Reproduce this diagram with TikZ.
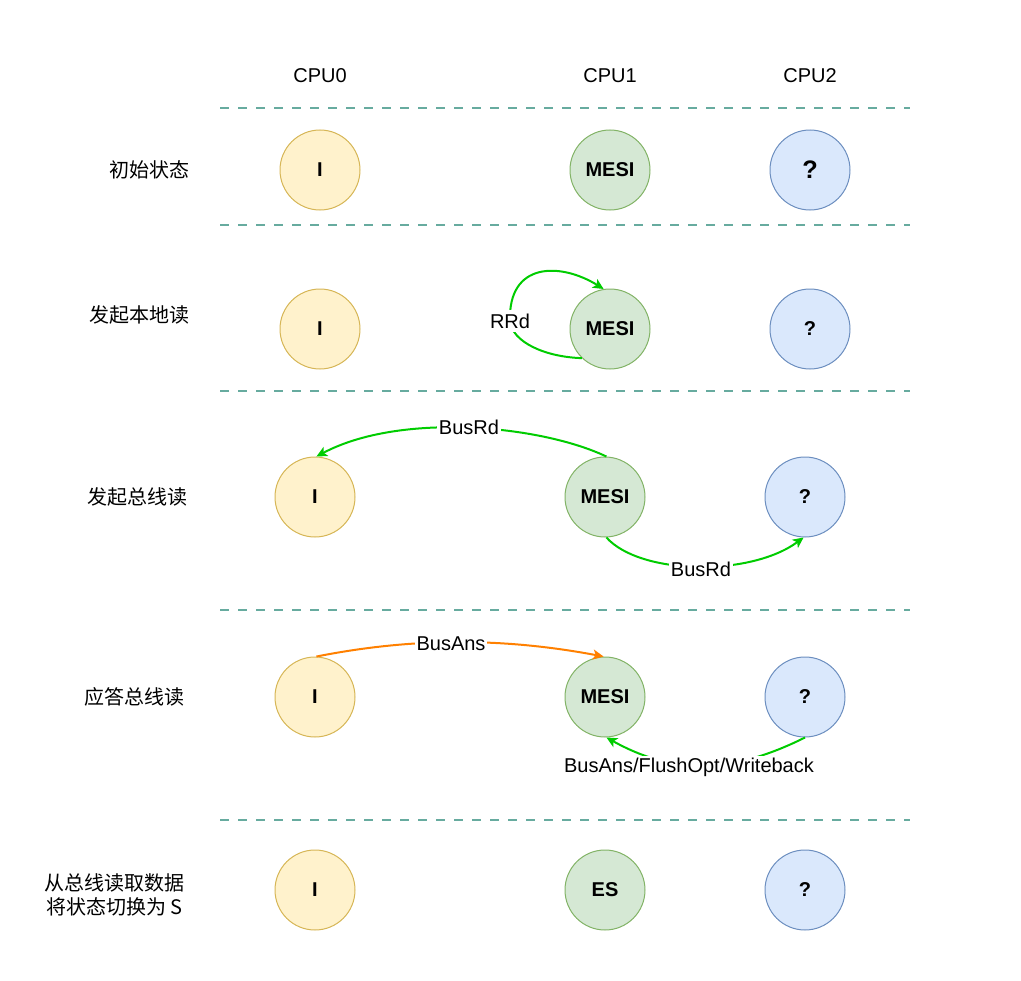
\documentclass[tikz,border=0pt]{standalone}
\usepackage{fontspec}
\setmainfont{Liberation Sans}
\newfontfamily\cjk{Noto Sans CJK SC}
\usetikzlibrary{arrows.meta}

\definecolor{lanefill}{HTML}{67AB9F}
\definecolor{invfill}{HTML}{FFF2CC}
\definecolor{invline}{HTML}{D6B656}
\definecolor{valfill}{HTML}{D5E8D4}
\definecolor{valline}{HTML}{82B366}
\definecolor{unkfill}{HTML}{DAE8FC}
\definecolor{unkline}{HTML}{6C8EBF}
\definecolor{busgreen}{HTML}{00CC00}
\definecolor{ansorange}{HTML}{FF8000}

\begin{document}
\begin{tikzpicture}[
    x={(0.75pt,0)}, y={(0,-0.75pt)},
    every node/.style={font=\fontsize{15}{18}\selectfont},
    state/.style={circle, draw, line width=0.75pt, minimum size=60pt, inner sep=0pt, font=\fontsize{15}{18}\selectfont\bfseries},
    inv/.style={state, fill=invfill, draw=invline},
    val/.style={state, fill=valfill, draw=valline},
    unk/.style={state, fill=unkfill, draw=unkline},
    lane/.style={draw=lanefill, line width=1.9pt, dash pattern=on 6.75pt off 6.75pt},
    rowlbl/.style={anchor=east, align=center, inner xsep=0pt, font=\cjk\fontsize{15}{18}\selectfont},
    edgelbl/.style={fill=white, inner sep=1.5pt},
    bus/.style={draw=busgreen, line width=1.5pt, -{Stealth[length=8pt, width=7.5pt, inset=2pt]}},
    ans/.style={bus, draw=ansorange}
  ]
  \useasboundingbox (0,0) rectangle (1021,981);

  % --- header ---
  \node (cpu0) at (320,76) {CPU0};
  \node (cpu1) at (610,76) {CPU1};
  \node (cpu2) at (810,76) {CPU2};

  % lane separators
  \foreach \y in {108,225,391,610,820}
    \draw[lane] (220,\y) -- (910,\y);

  % --- row 1: initial state ---
  \node[rowlbl] (r1) at (190,170) {初始状态};
  \node[inv] (i1) at (320,170) {I};
  \node[val] (m1) at (610,170) {MESI};
  \node[unk, font=\fontsize{19}{22}\selectfont\bfseries] (q1) at (810,170) {?};

  % --- row 2: local read ---
  \node[rowlbl] (r2) at (190,315) {发起本地读};
  \node[inv] (i2) at (320,329) {I};
  \node[val] (m2) at (610,329) {MESI};
  \node[unk] (q2) at (810,329) {?};

  % RRd: loop on CPU1
  \coordinate (rrdpt) at (510,321);
  \draw[bus] (m2.226) .. controls (545,357) and (512,342) .. (rrdpt)
    .. controls (508,262) and (560,262) .. (m2.99);
  \node[edgelbl, inner sep=2.5pt] (rrd) at (rrdpt) {RRd};

  % --- row 3: bus read ---
  \node[rowlbl] (r3) at (188,497) {发起总线读};
  \node[inv] (i3) at (315,497) {I};
  \node[val] (m3) at (605,497) {MESI};
  \node[unk] (q3) at (805,497) {?};

  % BusRd to CPU0 and CPU2
  \draw[bus] (m3.88) .. controls (540,425) and (400,412) .. (i3.88);
  \node[edgelbl] (busrd0) at (469,427) {BusRd};
  \draw[bus] (m3.-88) .. controls (640,575) and (750,577) .. (q3.-92);
  \node[edgelbl] (busrd2) at (701,569) {BusRd};

  % --- row 4: answer bus read ---
  \node[rowlbl] (r4) at (185,697) {应答总线读};
  \node[inv] (i4) at (315,697) {I};
  \node[val] (m4) at (605,697) {MESI};
  \node[unk] (q4) at (805,697) {?};

  % BusAns from CPU0, reply from CPU2
  \draw[ans] (i4.88) .. controls (410,638) and (500,637) .. (m4.92);
  \node[edgelbl] (busans) at (451,644) {BusAns};
  \draw[bus] (q4.-90) .. controls (730,775) and (672,774) .. (m4.-88);
  \node[edgelbl] (reply) at (689,767) {BusAns/FlushOpt/Writeback};

  % --- row 5: take data, switch to S ---
  \node[rowlbl] (r5) at (185,895) {从总线读取数据\\将状态切换为 S};
  \node[inv] (i5) at (315,890) {I};
  \node[val] (m5) at (605,890) {ES};
  \node[unk] (q5) at (805,890) {?};
\end{tikzpicture}
\end{document}
